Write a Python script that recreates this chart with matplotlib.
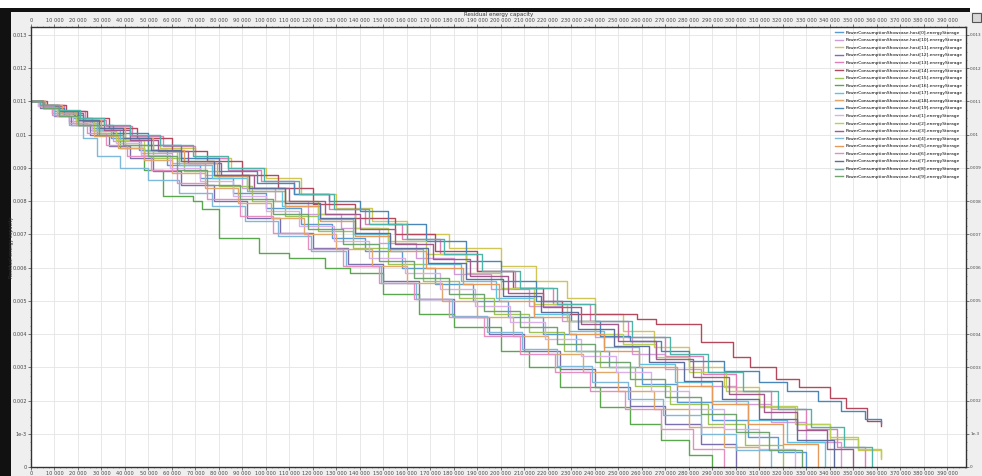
import matplotlib
matplotlib.use('Agg')
import matplotlib.pyplot as plt
from matplotlib.patches import Rectangle
from matplotlib.ticker import MultipleLocator, FuncFormatter

# breakpoints per host: (time in thousands, residual capacity in mJ)
host0 = [(0, 11.0), (5, 10.9), (10, 10.7), (18, 10.5), (26, 10.2), (34, 9.9), (46, 9.55), (58, 9.1), (72, 8.7), (86, 8.25), (100, 7.8), (115, 7.3), (128, 6.9), (142, 6.5), (158, 6.0), (172, 5.5), (188, 5.0), (203, 4.5), (218, 4.0), (232, 3.5), (246, 3.0), (260, 2.5), (275, 1.95), (290, 1.4), (305, 0.9), (318, 0.45), (330, 0.0)]
host10 = [(0, 11.0), (3, 10.85), (9, 10.65), (16, 10.4), (25, 10.15), (35, 9.8), (47, 9.45), (60, 9.15), (74, 8.8), (90, 8.4), (104, 8.0), (118, 7.6), (132, 7.2), (148, 6.75), (164, 6.3), (180, 5.8), (196, 5.35), (212, 4.85), (226, 4.4), (240, 3.9), (256, 3.4), (270, 2.95), (285, 2.45), (300, 1.9), (315, 1.35), (330, 0.75), (345, 0.0)]
host11 = [(0, 11.0), (6, 10.85), (13, 10.65), (21, 10.4), (30, 10.2), (42, 9.95), (55, 9.6), (70, 9.3), (85, 9.0), (100, 8.7), (115, 8.2), (130, 7.8), (145, 7.4), (160, 7.0), (178, 6.6), (200, 6.05), (215, 5.6), (228, 5.1), (240, 4.6), (252, 4.1), (265, 3.6), (280, 3.0), (295, 2.4), (310, 1.8), (325, 1.3), (340, 0.85), (352, 0.5), (362, 0.25)]
host12 = [(0, 11.0), (4, 10.8), (10, 10.55), (17, 10.3), (25, 10.0), (33, 9.65), (42, 9.3), (52, 8.9), (64, 8.5), (78, 8.0), (92, 7.5), (106, 7.05), (120, 6.6), (135, 6.1), (150, 5.6), (165, 5.05), (180, 4.5), (195, 4.0), (210, 3.5), (225, 2.95), (240, 2.4), (255, 1.85), (270, 1.3), (285, 0.7), (300, 0.0)]
host13 = [(0, 11.0), (6, 10.9), (14, 10.7), (23, 10.45), (32, 10.25), (43, 9.95), (56, 9.65), (70, 9.3), (84, 8.95), (98, 8.6), (112, 8.2), (127, 7.75), (142, 7.3), (158, 6.85), (174, 6.4), (190, 5.9), (206, 5.4), (222, 4.9), (238, 4.4), (254, 3.9), (270, 3.35), (286, 2.8), (300, 2.3), (315, 1.75), (330, 1.15), (343, 0.6), (355, 0.0)]
host14 = [(0, 11.0), (7, 10.9), (15, 10.7), (24, 10.5), (33, 10.2), (45, 9.9), (60, 9.5), (75, 9.2), (90, 8.8), (105, 8.4), (120, 7.9), (138, 7.5), (155, 7.0), (172, 6.5), (190, 5.9), (205, 5.4), (218, 5.0), (226, 4.6), (258, 4.46), (266, 4.3), (285, 3.77), (299, 3.3), (306, 3.0), (317, 2.66), (327, 2.4), (340, 2.07), (347, 1.77), (356, 1.38), (362, 1.23)]
host15 = [(0, 11.0), (5, 10.85), (12, 10.6), (20, 10.35), (29, 10.05), (40, 9.7), (52, 9.3), (65, 8.9), (80, 8.45), (94, 8.0), (108, 7.55), (122, 7.1), (137, 6.6), (152, 6.1), (167, 5.6), (182, 5.1), (197, 4.6), (212, 4.05), (227, 3.5), (242, 3.0), (257, 2.45), (272, 1.9), (288, 1.3), (304, 0.65), (320, 0.0)]
host16 = [(0, 11.0), (5, 10.85), (12, 10.6), (20, 10.3), (28, 10.0), (38, 9.6), (48, 8.95), (56, 8.15), (69, 8.0), (73, 7.75), (80, 6.9), (97, 6.45), (110, 6.3), (125, 6.0), (136, 5.85), (150, 5.2), (165, 4.6), (180, 4.2), (200, 3.5), (212, 3.0), (225, 2.4), (242, 1.8), (255, 1.3), (268, 0.8), (280, 0.35), (290, 0.0)]
host17 = [(0, 11.0), (4, 10.9), (11, 10.7), (19, 10.45), (28, 10.15), (38, 9.85), (50, 9.5), (63, 9.1), (77, 8.7), (92, 8.3), (107, 7.85), (122, 7.45), (137, 7.0), (152, 6.55), (167, 6.1), (183, 5.6), (198, 5.1), (214, 4.6), (229, 4.1), (244, 3.6), (259, 3.1), (274, 2.55), (290, 2.0), (305, 1.4), (322, 0.75), (338, 0.0)]
host18 = [(0, 11.0), (5, 10.8), (11, 10.55), (19, 10.3), (27, 9.95), (37, 9.6), (48, 9.25), (60, 8.85), (74, 8.4), (88, 7.95), (102, 7.5), (116, 7.0), (130, 6.55), (145, 6.05), (160, 5.55), (175, 5.0), (190, 4.5), (205, 3.95), (220, 3.4), (235, 2.85), (250, 2.3), (265, 1.75), (280, 1.2), (295, 0.6), (310, 0.0)]
host19 = [(0, 11.0), (5, 10.8), (14, 10.6), (22, 10.3), (35, 10.05), (50, 9.7), (64, 9.3), (80, 8.9), (96, 8.55), (112, 8.2), (127, 8.0), (140, 7.7), (152, 7.3), (168, 6.8), (185, 6.2), (200, 5.6), (215, 5.0), (230, 4.4), (242, 3.95), (255, 3.8), (268, 3.5), (280, 3.2), (295, 2.9), (310, 2.55), (322, 2.3), (335, 2.0), (345, 1.7), (355, 1.45), (362, 1.32)]
host1 = [(0, 11.0), (3, 10.85), (10, 10.6), (18, 10.35), (26, 10.1), (36, 9.75), (47, 9.4), (59, 9.0), (72, 8.6), (86, 8.15), (100, 7.7), (114, 7.25), (129, 6.8), (144, 6.3), (159, 5.85), (174, 5.35), (189, 4.85), (204, 4.35), (219, 3.85), (234, 3.35), (249, 2.85), (264, 2.3), (280, 1.75), (295, 1.15), (310, 0.55), (325, 0.0)]
host2 = [(0, 11.0), (4, 10.9), (11, 10.7), (19, 10.45), (27, 10.1), (36, 9.85), (48, 9.5), (62, 9.2), (78, 8.75), (92, 8.4), (108, 8.0), (122, 7.6), (138, 7.2), (152, 6.8), (168, 6.4), (185, 5.85), (200, 5.4), (214, 4.9), (228, 4.4), (240, 4.0), (252, 3.7), (266, 3.3), (280, 2.85), (296, 2.3), (310, 1.85), (326, 1.3), (340, 0.9), (352, 0.55), (362, 0.3)]
host3 = [(0, 11.0), (5, 10.85), (13, 10.65), (22, 10.4), (31, 10.15), (42, 9.85), (54, 9.5), (67, 9.15), (81, 8.8), (95, 8.4), (110, 8.0), (125, 7.6), (140, 7.15), (155, 6.7), (171, 6.25), (187, 5.75), (203, 5.25), (218, 4.8), (234, 4.3), (250, 3.8), (266, 3.25), (282, 2.7), (297, 2.2), (312, 1.65), (326, 1.1), (339, 0.55), (350, 0.0)]
host4 = [(0, 11.0), (4, 10.85), (10, 10.6), (16, 10.3), (22, 9.9), (28, 9.35), (38, 9.0), (50, 8.65), (63, 8.25), (77, 7.85), (91, 7.4), (105, 6.95), (119, 6.5), (134, 6.05), (149, 5.55), (164, 5.05), (179, 4.55), (194, 4.05), (209, 3.55), (224, 3.05), (239, 2.55), (254, 2.05), (269, 1.55), (285, 1.0), (300, 0.5), (315, 0.0)]
host5 = [(0, 11.0), (6, 10.9), (13, 10.65), (21, 10.45), (30, 10.2), (40, 9.9), (52, 9.55), (65, 9.15), (79, 8.75), (93, 8.3), (108, 7.85), (123, 7.4), (138, 6.95), (153, 6.5), (168, 6.0), (184, 5.5), (199, 5.0), (214, 4.5), (229, 4.0), (244, 3.5), (259, 3.0), (275, 2.45), (290, 1.9), (305, 1.3), (320, 0.7), (335, 0.0)]
host6 = [(0, 11.0), (4, 10.85), (9, 10.6), (16, 10.35), (24, 10.05), (32, 9.7), (41, 9.35), (51, 8.95), (62, 8.55), (75, 8.05), (89, 7.55), (103, 7.05), (118, 6.55), (133, 6.05), (148, 5.55), (163, 5.05), (178, 4.5), (193, 3.95), (208, 3.4), (223, 2.85), (238, 2.3), (253, 1.75), (268, 1.15), (282, 0.55), (295, 0.0)]
host7 = [(0, 11.0), (5, 10.9), (12, 10.7), (20, 10.45), (29, 10.2), (39, 9.9), (51, 9.55), (64, 9.2), (78, 8.8), (93, 8.4), (108, 7.95), (123, 7.5), (138, 7.05), (153, 6.6), (169, 6.15), (185, 5.65), (201, 5.15), (217, 4.65), (233, 4.15), (248, 3.65), (263, 3.15), (278, 2.6), (294, 2.05), (310, 1.45), (326, 0.8), (342, 0.0)]
host8 = [(0, 11.0), (4, 10.9), (12, 10.75), (21, 10.5), (31, 10.3), (42, 10.0), (55, 9.7), (69, 9.35), (84, 9.0), (99, 8.6), (114, 8.2), (129, 7.75), (144, 7.3), (160, 6.85), (176, 6.4), (192, 5.9), (208, 5.4), (224, 4.9), (240, 4.4), (256, 3.9), (272, 3.4), (288, 2.85), (303, 2.3), (318, 1.75), (332, 1.2), (346, 0.6), (358, 0.0)]
host9 = [(0, 11.0), (5, 10.8), (12, 10.55), (20, 10.3), (29, 10.0), (39, 9.7), (50, 9.35), (62, 8.95), (75, 8.5), (89, 8.05), (103, 7.6), (118, 7.15), (133, 6.7), (148, 6.2), (163, 5.7), (178, 5.2), (193, 4.7), (208, 4.2), (224, 3.7), (240, 3.15), (255, 2.65), (270, 2.1), (285, 1.6), (300, 1.05), (314, 0.5), (328, 0.0)]

host_ids = [0, 10, 11, 12, 13, 14, 15, 16, 17, 18, 19, 1, 2, 3, 4, 5, 6, 7, 8, 9]
series = [host0, host10, host11, host12, host13, host14, host15, host16, host17, host18,
          host19, host1, host2, host3, host4, host5, host6, host7, host8, host9]
colors = ['#5b9bd5', '#d39ad8', '#cfc655', '#7c6fb0', '#e07fb8', '#b5485d', '#9fc35a',
          '#5aa84e', '#62c3e0', '#e0a86a', '#4a86b8', '#d9b0e8', '#b9cf5a', '#a05a8c',
          '#7fb8d8', '#e69a5a', '#e58fc0', '#5d6e9a', '#4fb3a8', '#6fa36f']

fig = plt.figure(figsize=(9.82, 4.76), dpi=100)
fig.patch.set_facecolor('white')
W, H = 982, 476
# screenshot frame: grey widget background, black borders, corner button
fig.patches.append(Rectangle((11 / W, 0), 1, (H - 12) / H, transform=fig.transFigure,
                             facecolor='#efefef', edgecolor='none', zorder=-3))
fig.patches.append(Rectangle((0, 0), 11 / W, (H - 8) / H, transform=fig.transFigure,
                             facecolor='#111111', edgecolor='none', zorder=-2))
fig.patches.append(Rectangle((8 / W, (H - 12) / H), 962 / W, 4 / H, transform=fig.transFigure,
                             facecolor='#111111', edgecolor='none', zorder=-2))
fig.patches.append(Rectangle((972 / W, (H - 22) / H), 9 / W, 9 / H, transform=fig.transFigure,
                             facecolor='#d8d8d8', edgecolor='#555555', lw=0.8, zorder=-2))

ax = fig.add_axes([31 / W, 9 / H, 935 / W, 440 / H])
ax.set_facecolor('white')

for hid, pts, c in zip(host_ids, series, colors):
    xs = [p[0] * 1000 for p in pts]
    ys = [p[1] / 1000 for p in pts]
    ax.plot(xs, ys, drawstyle='steps-post', color=c, lw=1.0,
            label=f'PowerConsumptionShowcase.host[{hid}].energyStorage')

ax.set_xlim(0, 398000)
ax.set_ylim(0, 0.01324)
ax.xaxis.set_major_locator(MultipleLocator(10000))
ax.xaxis.set_minor_locator(MultipleLocator(2500))
ax.yaxis.set_major_locator(MultipleLocator(0.001))
ax.yaxis.set_minor_locator(MultipleLocator(0.00025))
ax.xaxis.set_major_formatter(FuncFormatter(lambda v, p: f'{int(round(v)):,}'.replace(',', ' ')))


def yfmt(v, p):
    v = round(v, 6)
    if v == 0:
        return '0'
    if abs(v - 0.001) < 1e-9:
        return '1e-3'
    return f'{v:g}'


ax.yaxis.set_major_formatter(FuncFormatter(yfmt))
ax.tick_params(axis='both', which='major', labelsize=3.6, length=2, width=0.5,
               direction='out', pad=1.0, colors='#444444',
               top=True, labeltop=True, right=True, labelright=True)
ax.tick_params(axis='both', which='minor', length=1, width=0.4, colors='#666666',
               top=True, right=True)
ax.grid(True, which='major', color='#e4e4e4', lw=0.6)
ax.set_axisbelow(True)
for s in ax.spines.values():
    s.set_color('#333333')
    s.set_linewidth(1.0)

# smaller labels on the right so they fit before the image edge
for tk in ax.yaxis.get_major_ticks():
    tk.label2.set_fontsize(3.0)

ax.set_title('Residual energy capacity', fontsize=4, pad=1.0, color='#333333')
ax.set_ylabel('Residual energy capacity', fontsize=3.5, color='#333333')
ax.yaxis.set_label_coords(-17 / 935, 0.5)

ax.legend(loc='upper right', bbox_to_anchor=(1, 1), fontsize=3.2, frameon=False,
          labelspacing=0.78, handlelength=1.8, handletextpad=0.4, borderaxespad=0.4)

fig.savefig('out.png', dpi=100)
